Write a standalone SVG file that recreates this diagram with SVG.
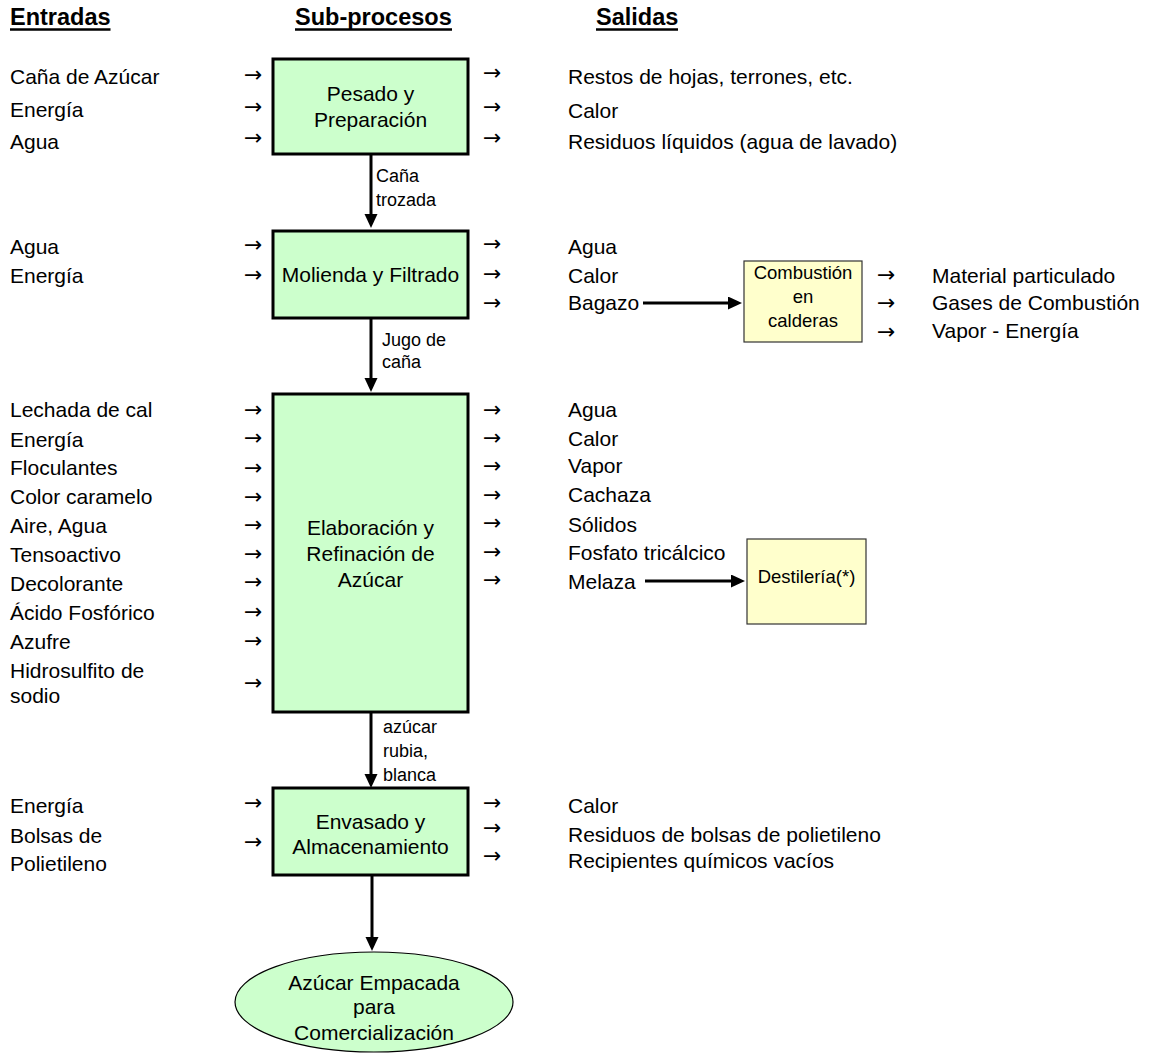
<svg xmlns="http://www.w3.org/2000/svg" width="1151" height="1063" viewBox="0 0 1151 1063">
<defs>
<marker id="ah" markerUnits="userSpaceOnUse" markerWidth="15" markerHeight="14" refX="4" refY="6.5" orient="auto">
<path d="M0,0 L14,6.5 L0,13 z" fill="#000"/>
</marker>
<style>
text{font-family:"Liberation Sans",Arial,sans-serif;fill:#000}
.t{font-size:21px}
.s{font-size:18px}
.c{font-size:18.5px}
.h{font-size:23.5px;font-weight:bold}
.a{font-family:"DejaVu Sans",sans-serif;font-size:22px}
.box{fill:#CCFFCC;stroke:#000;stroke-width:3}
.ybox{fill:#FFFFCC;stroke:#333;stroke-width:1.2}
.ln{stroke:#000;stroke-width:3;fill:none;marker-end:url(#ah)}
.m{text-anchor:middle}
</style>
</defs>
<rect width="1151" height="1063" fill="#fff"/>

<g id="headers">
<text class="h" x="10" y="25">Entradas</text>
<text class="h" x="295" y="25">Sub-procesos</text>
<text class="h" x="596" y="25">Salidas</text>
<line x1="10" y1="29.5" x2="110.5" y2="29.5" stroke="#000" stroke-width="2.5"/>
<line x1="295" y1="29.5" x2="452" y2="29.5" stroke="#000" stroke-width="2.5"/>
<line x1="596" y1="29.5" x2="678" y2="29.5" stroke="#000" stroke-width="2.5"/>
</g>

<g id="connectors">
<line class="ln" x1="371" y1="155" x2="371" y2="218"/>
<line class="ln" x1="371" y1="319" x2="371" y2="382"/>
<line class="ln" x1="371" y1="713" x2="371" y2="778"/>
<line class="ln" x1="372" y1="876" x2="372" y2="941"/>
<line class="ln" x1="643" y1="303" x2="732" y2="303"/>
<line class="ln" x1="645" y1="581" x2="735" y2="581"/>
</g>

<g id="node-pesado">
<rect class="box" x="273" y="59" width="195" height="95"/>
<text class="t m" x="370.5" y="101">Pesado y</text>
<text class="t m" x="370.5" y="127">Preparación</text>
</g>
<g id="node-molienda">
<rect class="box" x="273" y="231" width="195" height="87"/>
<text class="t m" x="370.5" y="282">Molienda y Filtrado</text>
</g>
<g id="node-elaboracion">
<rect class="box" x="273" y="394" width="195" height="318"/>
<text class="t m" x="370.5" y="535">Elaboración y</text>
<text class="t m" x="370.5" y="561">Refinación de</text>
<text class="t m" x="370.5" y="587">Azúcar</text>
</g>
<g id="node-envasado">
<rect class="box" x="273" y="788" width="195" height="87"/>
<text class="t m" x="370.5" y="829">Envasado y</text>
<text class="t m" x="370.5" y="854">Almacenamiento</text>
</g>
<g id="node-final">
<ellipse cx="374" cy="1002" rx="139" ry="50" fill="#CCFFCC" stroke="#000" stroke-width="1.2"/>
<text class="t m" x="374" y="990">Azúcar Empacada</text>
<text class="t m" x="374" y="1014">para</text>
<text class="t m" x="374" y="1040">Comercialización</text>
</g>
<g id="node-combustion">
<rect class="ybox" x="744" y="261" width="118" height="81"/>
<text class="c m" x="803" y="279">Combustión</text>
<text class="c m" x="803" y="303">en</text>
<text class="c m" x="803" y="327">calderas</text>
</g>
<g id="node-destileria">
<rect class="ybox" x="747" y="539" width="119" height="85"/>
<text class="c m" x="806.5" y="583">Destilería(*)</text>
</g>

<g id="flow-labels">
<text class="s" x="376" y="182">Caña</text>
<text class="s" x="376" y="206">trozada</text>
<text class="s" x="382" y="346">Jugo de</text>
<text class="s" x="382" y="368">caña</text>
<text class="s" x="383" y="733">azúcar</text>
<text class="s" x="383" y="757">rubia,</text>
<text class="s" x="383" y="781">blanca</text>
</g>

<g id="inputs">
<text class="t" x="10" y="84">Caña de Azúcar</text>
<text class="t" x="10" y="117">Energía</text>
<text class="t" x="10" y="149">Agua</text>
<text class="t" x="10" y="254">Agua</text>
<text class="t" x="10" y="283">Energía</text>
<text class="t" x="10" y="417">Lechada de cal</text>
<text class="t" x="10" y="447">Energía</text>
<text class="t" x="10" y="475">Floculantes</text>
<text class="t" x="10" y="504">Color caramelo</text>
<text class="t" x="10" y="533">Aire, Agua</text>
<text class="t" x="10" y="562">Tensoactivo</text>
<text class="t" x="10" y="591">Decolorante</text>
<text class="t" x="10" y="620">Ácido Fosfórico</text>
<text class="t" x="10" y="649">Azufre</text>
<text class="t" x="10" y="678">Hidrosulfito de</text>
<text class="t" x="10" y="703">sodio</text>
<text class="t" x="10" y="813">Energía</text>
<text class="t" x="10" y="843">Bolsas de</text>
<text class="t" x="10" y="871">Polietileno</text>
</g>

<g id="input-arrows">
<text class="a" x="244" y="82">→</text>
<text class="a" x="244" y="114">→</text>
<text class="a" x="244" y="145">→</text>
<text class="a" x="244" y="252">→</text>
<text class="a" x="244" y="282">→</text>
<text class="a" x="244" y="417">→</text>
<text class="a" x="244" y="445">→</text>
<text class="a" x="244" y="475">→</text>
<text class="a" x="244" y="504">→</text>
<text class="a" x="244" y="532">→</text>
<text class="a" x="244" y="561">→</text>
<text class="a" x="244" y="589">→</text>
<text class="a" x="244" y="619">→</text>
<text class="a" x="244" y="648">→</text>
<text class="a" x="244" y="690">→</text>
<text class="a" x="244" y="810">→</text>
<text class="a" x="244" y="849">→</text>
</g>

<g id="output-arrows">
<text class="a" x="483" y="80">→</text>
<text class="a" x="483" y="114">→</text>
<text class="a" x="483" y="145">→</text>
<text class="a" x="483" y="251">→</text>
<text class="a" x="483" y="281">→</text>
<text class="a" x="483" y="310">→</text>
<text class="a" x="483" y="417">→</text>
<text class="a" x="483" y="445">→</text>
<text class="a" x="483" y="473">→</text>
<text class="a" x="483" y="502">→</text>
<text class="a" x="483" y="530">→</text>
<text class="a" x="483" y="559">→</text>
<text class="a" x="483" y="587">→</text>
<text class="a" x="483" y="810">→</text>
<text class="a" x="483" y="835">→</text>
<text class="a" x="483" y="863">→</text>
<text class="a" x="877" y="282">→</text>
<text class="a" x="877" y="310">→</text>
<text class="a" x="877" y="339">→</text>
</g>

<g id="outputs">
<text class="t" x="568" y="84">Restos de hojas, terrones, etc.</text>
<text class="t" x="568" y="118">Calor</text>
<text class="t" x="568" y="149">Residuos líquidos (agua de lavado)</text>
<text class="t" x="568" y="254">Agua</text>
<text class="t" x="568" y="283">Calor</text>
<text class="t" x="568" y="310">Bagazo</text>
<text class="t" x="568" y="417">Agua</text>
<text class="t" x="568" y="446">Calor</text>
<text class="t" x="568" y="473">Vapor</text>
<text class="t" x="568" y="502">Cachaza</text>
<text class="t" x="568" y="532">Sólidos</text>
<text class="t" x="568" y="560">Fosfato tricálcico</text>
<text class="t" x="568" y="589">Melaza</text>
<text class="t" x="568" y="813">Calor</text>
<text class="t" x="568" y="842">Residuos de bolsas de polietileno</text>
<text class="t" x="568" y="868">Recipientes químicos vacíos</text>
<text class="t" x="932" y="283">Material particulado</text>
<text class="t" x="932" y="310">Gases de Combustión</text>
<text class="t" x="932" y="338">Vapor - Energía</text>
</g>
</svg>
